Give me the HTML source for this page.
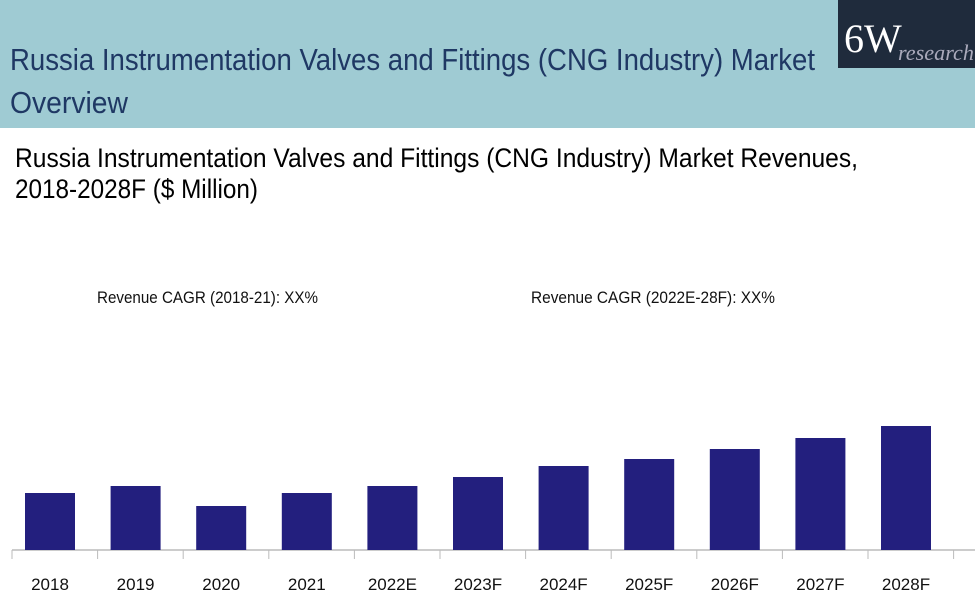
<!DOCTYPE html>
<html><head><meta charset="utf-8"><style>
body{margin:0;width:975px;height:613px;overflow:hidden;background:#fff}
svg{display:block;font-family:"Liberation Sans",sans-serif}
</style></head><body>
<svg width="975" height="613">
<rect x="0" y="0" width="975" height="128" fill="#9fcbd3"/>
<text x="10" y="70" font-size="31" fill="#1f3864" textLength="805" lengthAdjust="spacingAndGlyphs">Russia Instrumentation Valves and Fittings (CNG Industry) Market</text>
<text x="10" y="113" font-size="31" fill="#1f3864" textLength="118" lengthAdjust="spacingAndGlyphs">Overview</text>
<g>
<rect x="838" y="0" width="137" height="68" fill="#1f2b3c"/>
<text x="844" y="52" font-family="Liberation Serif,serif" font-size="40" fill="#fff">6W</text>
<text x="898" y="60" font-family="Liberation Serif,serif" font-style="italic" font-size="22" fill="#aab" textLength="76" lengthAdjust="spacingAndGlyphs">research</text>
</g>
<text x="15" y="167" font-size="27" fill="#000" textLength="843" lengthAdjust="spacingAndGlyphs">Russia Instrumentation Valves and Fittings (CNG Industry) Market Revenues,</text>
<text x="15" y="198" font-size="27" fill="#000" textLength="243" lengthAdjust="spacingAndGlyphs">2018-2028F ($ Million)</text>
<text x="97" y="303" font-size="17" fill="#111" textLength="221" lengthAdjust="spacingAndGlyphs">Revenue CAGR (2018-21): XX%</text>
<text x="531" y="303" font-size="17" fill="#111" textLength="244" lengthAdjust="spacingAndGlyphs">Revenue CAGR (2022E-28F): XX%</text>
<g id="plot"></g>
</svg>
<script>
const categories=["2018","2019","2020","2021","2022E","2023F","2024F","2025F","2026F","2027F","2028F"];
const revenues=[57,64,44,57,64,73,84,91,101,112,124];
const ns="http://www.w3.org/2000/svg";
const g=document.getElementById('plot');
const x0=7.2,band=85.6,baseY=550,scale=1,barW=50;
function xs(i){return x0+band*i;}
function ys(v){return baseY-v*scale;}
function mk(t,a){const e=document.createElementNS(ns,t);for(const k in a)e.setAttribute(k,a[k]);g.appendChild(e);return e;}
const ax=mk('line',{x1:12,x2:975,y1:baseY,y2:baseY,stroke:'#bbb','stroke-width':1.5});


for(let i=0;i<=categories.length;i++){
  const t=mk('line',{x1:12+band*i,x2:12+band*i,y1:baseY,y2:baseY+9,stroke:'#bbb','stroke-width':1});
  
  
}
categories.forEach((c,i)=>{
  const cx=xs(i)+band/2;
  const b=mk('rect',{x:cx-barW/2,y:ys(revenues[i]),width:barW,height:baseY-ys(revenues[i]),fill:'#231f7e'});
  
  
  const l=mk('text',{x:cx,y:590,'font-size':17,'text-anchor':'middle',fill:'#111'});
  l.textContent=c;
  
  
});
</script>
</body></html>
